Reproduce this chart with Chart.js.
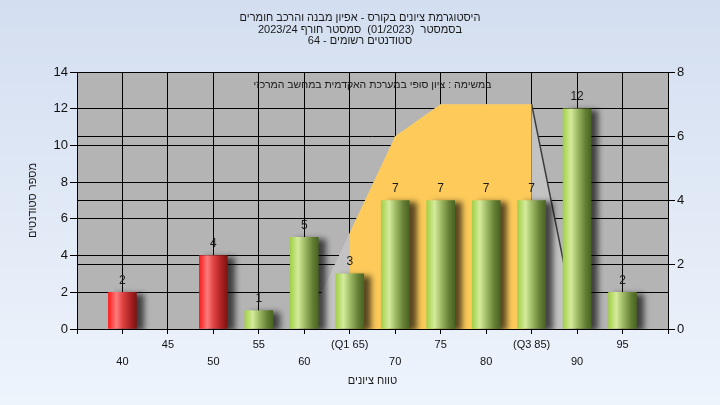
<!DOCTYPE html>
<html lang="he">
<head>
<meta charset="utf-8">
<script src="https://cdn.jsdelivr.net/npm/chart.js@4.4.1/dist/chart.umd.min.js"></script>
<style>
  html, body { margin: 0; padding: 0; background: #e6eefa; }
</style>
</head>
<body>
<canvas id="histogram" width="720" height="405"></canvas>
<script>
const categories = [40, 45, 50, 55, 60, 65, 70, 75, 80, 85, 90, 95];
const tickLabels = ['40', '45', '50', '55', '60', '(Q1 65)', '70', '75', '80', '(Q3 85)', '90', '95'];
const studentCounts = [2, 0, 4, 1, 5, 3, 7, 7, 7, 7, 12, 2];
// distribution curve, read against the right axis
const curveValues = [null, null, null, null, 0, 3, 6, 7, 7, 7, 0, null];
const quartiles = [65, 85];
const passGrade = 55;

const titleLines = [
    'היסטוגרמת ציונים בקורס - אפיון מבנה והרכב חומרים',
    'בסמסטר  (01/2023)  סמסטר חורף 2023/24',
    'סטודנטים רשומים - 64'
];
const noteText = 'במשימה : ציון סופי במערכת האקדמית במחשב המרכזי';

const FONT = "'Liberation Sans', Arial, sans-serif";
const BAR_W = 28;

const curvePoints = categories
    .map((c, i) => ({ x: c, y: curveValues[i] }))
    .filter(p => p.y !== null);
const iqrPoints = curvePoints.filter(p => p.x >= quartiles[0] && p.x <= quartiles[1]);

const redStops = [[0, '#ff1a1a'], [0.28, '#ff7c7c'], [0.5, '#e04444'], [0.8, '#a82020'], [1, '#7c1414']];
const greenStops = [[0, '#a2d048'], [0.28, '#d4eb9c'], [0.5, '#a2bd68'], [0.8, '#647f34'], [1, '#4a6422']];

function barFill(context) {
    const chart = context.chart;
    if (!context.raw || !context.raw.y) return 'rgba(0,0,0,0)';
    if (!chart.chartArea) return '#a2d048';
    const x = chart.scales.x.getPixelForValue(context.raw.x);
    const g = chart.ctx.createLinearGradient(x - BAR_W / 2, 0, x + BAR_W / 2, 0);
    const stops = context.raw.x < passGrade ? redStops : greenStops;
    stops.forEach(s => g.addColorStop(s[0], s[1]));
    return g;
}

const backdrop = {
    id: 'backdrop',
    beforeDraw(chart) {
        const c = chart.ctx;
        const bg = c.createLinearGradient(0, 0, 0, chart.height);
        bg.addColorStop(0, '#d3def0');
        bg.addColorStop(1, '#eef4fc');
        c.save();
        c.fillStyle = bg;
        c.fillRect(0, 0, chart.width, chart.height);
        const a = chart.chartArea;
        c.fillStyle = '#b4b4b4';
        c.fillRect(a.left, a.top, a.right - a.left, a.bottom - a.top);
        c.restore();
    },
    afterDraw(chart) {
        const c = chart.ctx;
        const a = chart.chartArea;
        c.save();
        c.direction = 'rtl';
        c.fillStyle = '#1a1a1a';
        c.textAlign = 'center';
        c.textBaseline = 'middle';
        c.font = '11px ' + FONT;
        [18, 30, 41].forEach((y, i) => c.fillText(titleLines[i], 360, y));
        c.font = '10.5px ' + FONT;
        c.fillText(noteText, (a.left + a.right) / 2, a.top + 13);
        c.restore();
    }
};

const barShadow = {
    id: 'barShadow',
    beforeDatasetDraw(chart, args) {
        if (args.meta.type !== 'bar') return;
        const c = chart.ctx;
        c.save();
        c.shadowColor = 'rgba(0,0,0,0.65)';
        c.shadowBlur = 6;
        c.shadowOffsetX = 7;
        c.shadowOffsetY = 2;
    },
    afterDatasetDraw(chart, args) {
        if (args.meta.type === 'bar') chart.ctx.restore();
    },
    afterDatasetsDraw(chart) {
        const c = chart.ctx;
        c.save();
        c.fillStyle = '#1a1a1a';
        c.font = '12px ' + FONT;
        c.textAlign = 'center';
        c.textBaseline = 'middle';
        chart.data.datasets.forEach((ds, di) => {
            const meta = chart.getDatasetMeta(di);
            if (meta.type !== 'bar') return;
            meta.data.forEach((el, i) => {
                const v = ds.data[i].y;
                if (v > 0) c.fillText(String(v), el.x, el.y - 12);
            });
        });
        c.restore();
    }
};

new Chart(document.getElementById('histogram'), {
    type: 'bar',
    data: {
        datasets: [{
            type: 'bar',
            data: categories.map((c, i) => ({ x: c, y: studentCounts[i] })),
            backgroundColor: barFill,
            barThickness: BAR_W,
            yAxisID: 'y',
            order: 0
        }, {
            type: 'line',
            data: iqrPoints,
            yAxisID: 'y1',
            fill: 'origin',
            backgroundColor: '#fecb5a',
            borderWidth: 0,
            pointRadius: 0,
            tension: 0,
            order: 1
        }, {
            type: 'line',
            data: curvePoints,
            yAxisID: 'y1',
            fill: 'origin',
            backgroundColor: '#c3c3c3',
            borderWidth: 1.5,
            borderColor: 'rgba(0,0,0,0)',
            segment: {
                borderColor: ctx => ctx.p0.parsed.x >= quartiles[1] ? '#3c3c3c' : 'rgba(0,0,0,0)'
            },
            pointRadius: 0,
            tension: 0,
            order: 2
        }]
    },
    options: {
        responsive: false,
        animation: false,
        layout: { padding: { top: 72, left: 0, right: 0, bottom: 0 } },
        plugins: {
            legend: { display: false },
            tooltip: { enabled: false },
            title: { display: false }
        },
        scales: {
            x: {
                type: 'linear',
                min: 35,
                max: 100,
                offset: false,
                afterFit: s => { s.height = 76; },
                afterBuildTicks: s => { s.ticks = [35].concat(categories, [100]).map(v => ({ value: v })); },
                grid: { offset: false, color: '#000', tickColor: '#000', tickLength: 5, lineWidth: 1 },
                border: { color: '#000' },
                ticks: {
                    autoSkip: false,
                    maxRotation: 0,
                    padding: 3,
                    color: '#111',
                    font: { family: FONT, size: 11, lineHeight: 1.5 },
                    callback: v => {
                        const i = categories.indexOf(v);
                        if (i < 0) return '';
                        return i % 2 ? [tickLabels[i]] : ['', tickLabels[i]];
                    }
                },
                title: {
                    display: true,
                    text: 'טווח ציונים',
                    color: '#1a1a1a',
                    font: { family: FONT, size: 11 },
                    padding: { top: 0, bottom: 17 }
                }
            },
            y: {
                position: 'left',
                min: 0,
                max: 14,
                afterFit: s => { s.width = 77; },
                ticks: { stepSize: 2, color: '#111', padding: 2, font: { family: FONT, size: 13 } },
                grid: { color: '#000', tickColor: '#000', tickLength: 7 },
                border: { color: '#000' },
                title: {
                    display: true,
                    text: 'מספר סטודנטים',
                    color: '#1a1a1a',
                    font: { family: FONT, size: 11 },
                    padding: { top: 26, bottom: 0 }
                }
            },
            y1: {
                position: 'right',
                min: 0,
                max: 8,
                afterFit: s => { s.width = 52; },
                ticks: { stepSize: 2, color: '#111', padding: 2, font: { family: FONT, size: 13 } },
                grid: { color: '#000', tickColor: '#000', tickLength: 7 },
                border: { color: '#000' }
            }
        }
    },
    plugins: [backdrop, barShadow]
});
</script>
</body>
</html>
